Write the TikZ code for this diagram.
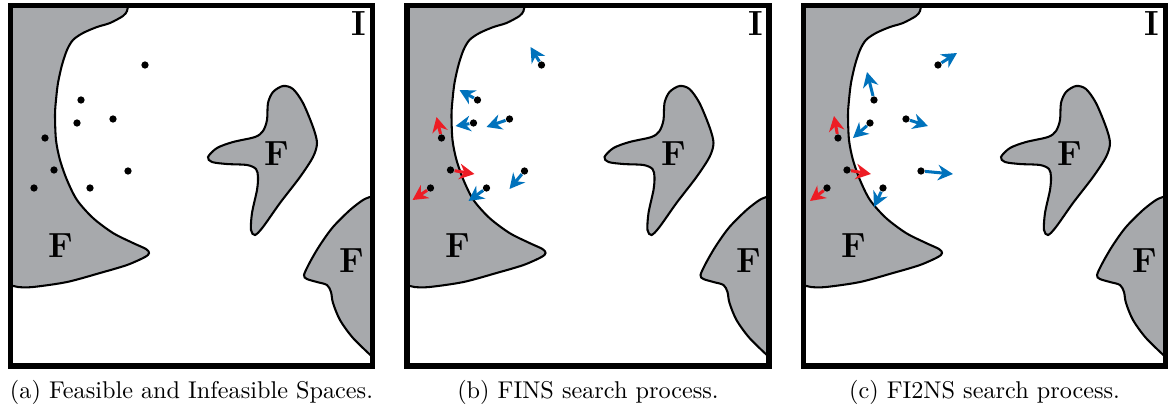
\documentclass[tikz,border=0pt]{standalone}
\usepackage{tikz}
\usetikzlibrary{arrows.meta}

\definecolor{feasgray}{RGB}{167,169,172}
\definecolor{srchblue}{RGB}{0,114,188}
\definecolor{srchred}{RGB}{237,28,36}

% feasible regions, frame and labels of one panel
\newcommand{\spaces}[1]{%
  \draw[region] (10.5,5.5) -- plot[smooth] coordinates {(128,5.5) (127,11) (123,16) (110,23) (97,27) (83,33) (73,40) (67,50) (62,65) (58,83) (56,100) (55,115) (56,140) (60,160) (67,180) (77,200) (93,218) (113,233) (133,243) (146,249) (149,253) (145,257) (127,265) (100,273) (67,282) (33,287) (18,287) (10.5,285)} -- cycle;
  \draw[region] plot[smooth cycle] coordinates {(208,157) (217,148) (233,142) (255,137) (263,131) (267,120) (268,103) (273,92) (283,86) (293,89) (303,103) (313,127) (317,143) (313,157) (300,177) (280,203) (263,227) (255,235) (251,230) (252,213) (257,190) (258,177) (256,169) (247,165) (227,164) (212,162)};
  \draw[region] (372.5,196) -- plot[smooth] coordinates {(370,197) (363,200) (350,210) (333,227) (320,245) (310,262) (304,275) (307,279) (317,282) (327,285) (331,292) (333,303) (340,320) (353,338) (372.5,357)} -- cycle;
  \draw[frame] (10.5,5.5) rectangle (372.5,366);
  \node[flabel] (#1F1) at (61,246) {F};
  \node[flabel] (#1F2) at (277,154) {F};
  \node[flabel] (#1F3) at (352,261) {F};
  \node[flabel] (#1I) at (359,23.5) {I};
}

\begin{document}
\begin{tikzpicture}[x=0.4125pt, y=-0.4125pt,
    region/.style={fill=feasgray, draw=black, line width=0.85pt},
    frame/.style={draw=black, line width=2.3pt},
    dot/.style={circle, fill=black, inner sep=0pt, minimum size=3pt},
    bluemove/.style={draw=srchblue, line width=1.25pt, -{Stealth[length=6.2pt,width=6.4pt,inset=2pt]}},
    redmove/.style={draw=srchred, line width=1.25pt, -{Stealth[length=6.2pt,width=6.4pt,inset=2pt]}},
    flabel/.style={font=\Large\bfseries},
    caption/.style={anchor=base}]
  \useasboundingbox (0,0) rectangle (1168,410);

  % (a)
  \begin{scope}
    \spaces{a}
    \node[dot] (a1) at (145,65) {};
    \node[dot] (a2) at (81,100) {};
    \node[dot] (a3) at (113,119) {};
    \node[dot] (a4) at (77,123) {};
    \node[dot] (a5) at (45,138) {};
    \node[dot] (a6) at (54,170) {};
    \node[dot] (a7) at (128,171) {};
    \node[dot] (a8) at (34,188) {};
    \node[dot] (a9) at (90,188) {};
    \node[caption] (acap) at (191.5,398) {(a) Feasible and Infeasible Spaces.};
  \end{scope}

  % (b)
  \begin{scope}[shift={(396.5,0)}]
    \spaces{b}
    \node[dot] (b1) at (145,65) {};
    \node[dot] (b2) at (81,100) {};
    \node[dot] (b3) at (113,119) {};
    \node[dot] (b4) at (77,123) {};
    \node[dot] (b5) at (45,138) {};
    \node[dot] (b6) at (54,170) {};
    \node[dot] (b7) at (128,171) {};
    \node[dot] (b8) at (34,188) {};
    \node[dot] (b9) at (90,188) {};
    \coordinate (b1e) at (134,47);
    \coordinate (b2e) at (63,90);
    \coordinate (b3e) at (90,127);
    \coordinate (b4e) at (59,126);
    \coordinate (b5e) at (40,117);
    \coordinate (b6e) at (78,174);
    \coordinate (b7e) at (113,189);
    \coordinate (b8e) at (16,200);
    \coordinate (b9e) at (72,201);
    \draw[bluemove] (b1) -- (b1e);
    \draw[bluemove] (b2) -- (b2e);
    \draw[bluemove] (b3) -- (b3e);
    \draw[bluemove] (b4) -- (b4e);
    \draw[redmove] (b5) -- (b5e);
    \draw[redmove] (b6) -- (b6e);
    \draw[bluemove] (b7) -- (b7e);
    \draw[redmove] (b8) -- (b8e);
    \draw[bluemove] (b9) -- (b9e);
    \node[caption] (bcap) at (191.5,398) {(b) FINS search process.};
  \end{scope}

  % (c)
  \begin{scope}[shift={(793,0)}]
    \spaces{c}
    \node[dot] (c1) at (145,65) {};
    \node[dot] (c2) at (81,100) {};
    \node[dot] (c3) at (113,119) {};
    \node[dot] (c4) at (77,123) {};
    \node[dot] (c5) at (45,138) {};
    \node[dot] (c6) at (54,170) {};
    \node[dot] (c7) at (128,171) {};
    \node[dot] (c8) at (34,188) {};
    \node[dot] (c9) at (90,188) {};
    \coordinate (c1e) at (164,53);
    \coordinate (c2e) at (74,72);
    \coordinate (c3e) at (135,126);
    \coordinate (c4e) at (60,138);
    \coordinate (c5e) at (41,116);
    \coordinate (c6e) at (78,174);
    \coordinate (c7e) at (160,174);
    \coordinate (c8e) at (17,201);
    \coordinate (c9e) at (81,207);
    \draw[bluemove] (c1) -- (c1e);
    \draw[bluemove] (c2) -- (c2e);
    \draw[bluemove] (c3) -- (c3e);
    \draw[bluemove] (c4) -- (c4e);
    \draw[redmove] (c5) -- (c5e);
    \draw[redmove] (c6) -- (c6e);
    \draw[bluemove] (c7) -- (c7e);
    \draw[redmove] (c8) -- (c8e);
    \draw[bluemove] (c9) -- (c9e);
    \node[caption] (ccap) at (191.5,398) {(c) FI2NS search process.};
  \end{scope}
\end{tikzpicture}
\end{document}
